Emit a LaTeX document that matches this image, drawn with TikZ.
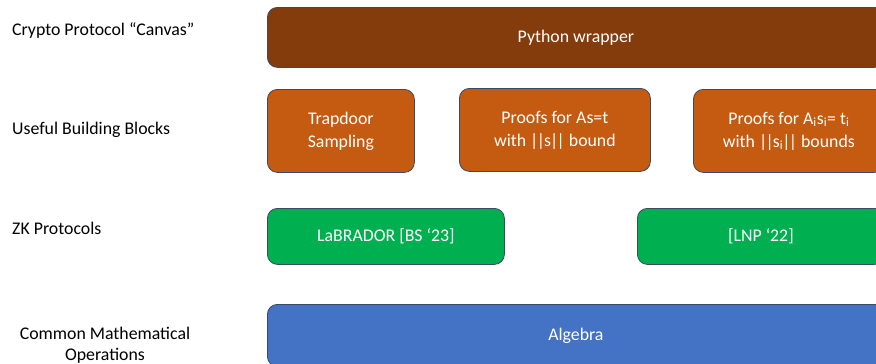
\documentclass[tikz,border=0pt]{standalone}
\usepackage{fontspec}
\setmainfont{Carlito}
\usetikzlibrary{positioning}
\definecolor{canvasbrown}{HTML}{843C0C}
\definecolor{blockorange}{HTML}{C55A11}
\definecolor{zkgreen}{HTML}{00B050}
\definecolor{algblue}{HTML}{4472C4}
\definecolor{edgeblue}{HTML}{3A4A66}
% tight double bars round a norm
\newcommand{\bars}{|\kern-1.5pt|}
\newcommand{\normof}[1]{\bars\kern-1pt#1\kern-1pt\bars}

\begin{document}
\begin{tikzpicture}[x=1pt, y=-1pt,
    layer/.style={font=\fontsize{17.8}{21}\selectfont, inner sep=0pt},
    block/.style={draw=edgeblue, line width=0.8pt, rounded corners=10pt,
        text=white, font=\fontsize{17.8}{23}\selectfont, align=center,
        anchor=north west, inner sep=0pt}]
    \useasboundingbox (0,0) rectangle (876,364);
    \clip (0,0) rectangle (876,364);

    % Layer names on the left
    \node[layer, anchor=west] (canvas) at (12,31) {Crypto Protocol “Canvas”};
    \node[layer, anchor=west] (blocks) at (12,130) {Useful Building Blocks};
    \node[layer, anchor=west] (zk) at (12,228) {ZK Protocols};
    \node[layer, align=center] (math) at (105,345) {Common Mathematical\\Operations};

    % Top layer
    \node[block, fill=canvasbrown, minimum width=617pt, minimum height=60pt]
        (wrapper) at (267,7) {Python wrapper};

    % Building blocks
    \node[block, fill=blockorange, minimum width=147pt, minimum height=83pt]
        (trapdoor) at (267,89) {Trapdoor\\Sampling};
    \node[block, fill=blockorange, minimum width=191pt, minimum height=83pt]
        (proofone) at (459,88) {Proofs for As=t\\with \normof{s} bound};
    \node[block, fill=blockorange, minimum width=191pt, minimum height=83pt]
        (proofmany) at (693,89)
        {Proofs for A\textsubscript{i}s\textsubscript{i}= t\textsubscript{i}\\
         with \normof{s\textsubscript{i}} bounds};

    % ZK protocols
    \node[block, fill=zkgreen, minimum width=237pt, minimum height=56pt]
        (labrador) at (267,208) {LaBRADOR [BS ‘23]};
    \node[block, fill=zkgreen, minimum width=247pt, minimum height=56pt]
        (lnp) at (637,208) {[LNP ‘22]};

    % Bottom layer
    \node[block, fill=algblue, minimum width=617pt, minimum height=62pt]
        (algebra) at (267,304) {Algebra};
\end{tikzpicture}
\end{document}
